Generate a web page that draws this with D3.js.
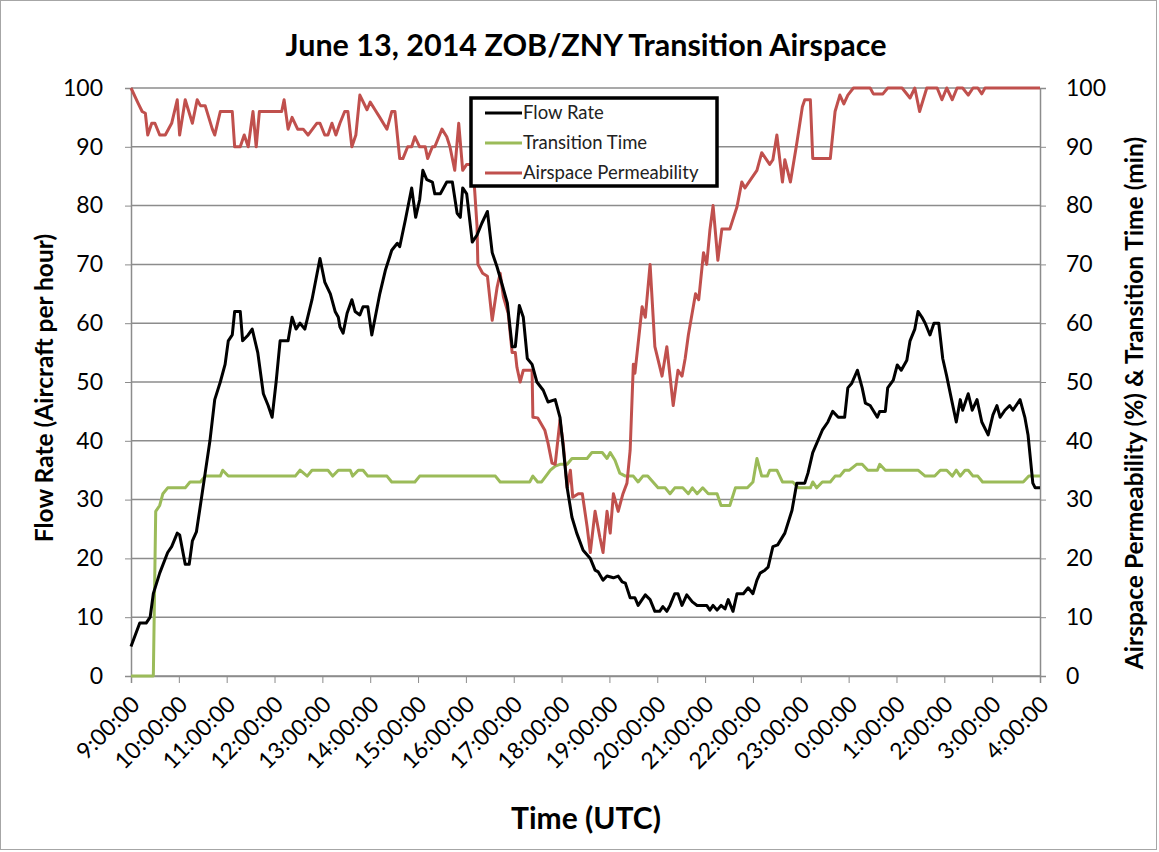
<!DOCTYPE html>
<html>
<head>
<meta charset="utf-8">
<script src="https://d3js.org/d3.v7.min.js"></script>
<style>
  body { margin: 0; background: #fff; }
  text { font-family: Lato, "Open Sans", sans-serif; }
</style>
</head>
<body>
<div id="chart"></div>
<script>
// time is minutes after 9:00 UTC
const hourLabels = ["9:00:00","10:00:00","11:00:00","12:00:00","13:00:00","14:00:00","15:00:00",
  "16:00:00","17:00:00","18:00:00","19:00:00","20:00:00","21:00:00","22:00:00","23:00:00",
  "0:00:00","1:00:00","2:00:00","3:00:00","4:00:00"];
const yTicks = [0,10,20,30,40,50,60,70,80,90,100];

const flowRate = [[0,5],[11,9],[19,9],[24,10],[28,14],[36,17.5],[46,21],[51,22],[58,24.3],[61,24],
  [68,19],[73,19],[77,23],[82,24.5],[87,29],[93,34.5],[99,40],[105,47],[112,50],[118,53],[122,57],
  [127,58],[130,62],[137,62],[140,57],[147,58],[152,59],[159,55],[166,48],[172,46],[177,44],[182,50],
  [187,57],[197,57],[202,61],[207,59],[212,60],[218,59],[227,64],[237,71],[243,67],[250,65],[256,62],
  [260,61],[262,59.4],[266,58.3],[271,61.7],[277,64],[281,62],[287,61.4],[291,62.8],[297,62.8],[302,58],
  [312,65],[319,69],[327,72.4],[334,73.6],[337,73],[344,77.5],[352,83],[357,78],[362,81],[366,86],
  [371,84.4],[378,84],[381,82],[388,82],[396,84],[403,84],[409,78.7],[413,78],[416,83],[421,82],
  [428,73.8],[434,75],[440,77],[447,79],[453,72],[459,69.6],[465,66.8],[472,63.4],[478,56],[482,56],
  [487,63],[492,61],[497,54],[503,53],[509,50],[517,48.6],[523,46.6],[532,47],[538,44],[542,39],
  [547,32],[553,27],[559,24.3],[567,21.4],[576,20],[582,18],[586,17.7],[592,16.3],[597,17],[605,16.7],
  [611,17],[616,16],[620,15.8],[626,13.3],[632,13.3],[636,12],[645,13.8],[651,13],[657,11],[663,11],
  [667,11.8],[672,11],[676,12],[682,14],[686,14],[691,12],[697,13.8],[704,12.6],[710,12],[722,12],
  [726,11.2],[730,12],[735,11.2],[740,12],[745,11.4],[749,13],[755,11],[760,14],[768,14],[774,15],
  [780,14],[785,16.3],[789,17.5],[795,18],[799,18.5],[805,22],[811,22.3],[820,24.3],[829,28.2],
  [835,32.8],[845,32.8],[849,34.5],[855,38],[867,41.8],[874,43.2],[880,45],[887,44],[895,44],[899,49],
  [904,49.8],[911,52],[917,49],[921,46.4],[927,46],[936,44],[939,45],[946,45],[949,49],[956,50.3],
  [961,52.9],[966,52],[973,53.7],[977,57],[983,59],[987,62],[992,61],[996,60],[1002,58],[1007,60],
  [1013,60],[1018,54],[1023,51],[1030,46.4],[1035,43.2],[1040,47],[1043,45.2],[1050,48],[1055,45.2],
  [1061,47],[1067,43.2],[1075,41],[1081,44.4],[1086,46],[1090,44],[1096,45.2],[1102,46],[1106,45.2],
  [1115,47],[1121,44],[1125,41],[1131,32.8],[1134,32],[1140,32]];

const transitionTime = [[0,0],[28,0],[31,28],[36,29],[40,31],[46,32],[68,32],[74,33],[87,33],[93,34],
  [112,34],[115,35],[122,34],[206,34],[212,35],[221,34],[227,35],[247,35],[253,34],[260,35],[275,35],
  [278,34],[285,35],[291,35],[297,34],[321,34],[327,33],[356,33],[362,34],[457,34],[463,33],[500,33],
  [504,34],[510,33],[515,33],[526,35],[532,35.7],[538,36],[547,36],[553,37],[572,37],[578,38],[591,38],
  [597,37],[601,38],[607,36.7],[613,34.5],[620,34],[630,34],[636,33],[642,34],[648,34],[661,32],
  [670,32],[676,31],[682,32],[692,32],[699,31],[704,32],[710,31],[717,32],[724,31],[735,31],[740,29],
  [751,29],[758,32],[773,32],[780,33],[785,37],[791,34],[798,34],[801,35],[810,35],[817,33],[830,33],
  [837,32],[852,32],[855,33],[860,32],[867,33],[877,33],[883,34],[889,34],[895,35],[901,35],[910,36],
  [917,36],[924,35],[936,35],[939,36],[946,35],[987,35],[996,34],[1008,34],[1015,35],[1023,35],
  [1030,34],[1035,35],[1040,34],[1046,35],[1050,35],[1056,34],[1062,34],[1068,33],[1119,33],
  [1126,34],[1140,34]];

const permeability = [[0,100],[9,97.4],[14,96],[18,95.7],[21,92],[26,94],[30,94],[36,92],[43,92],
  [51,94],[58,98],[61,92],[68,98],[77,94],[83,98],[87,97],[93,97],[102,93],[105,92],[112,96],[127,96],
  [130,90],[137,90],[142,92],[147,90],[153,96],[157,90],[161,96],[189,96],[192,98],[197,93],[202,95],
  [209,93],[216,93],[222,92],[233,94],[237,94],[243,92],[247,92],[252,94],[257,92],[262,94],[268,96],
  [272,96],[277,90],[282,92],[287,98.8],[296,96.3],[300,97.6],[306,96.3],[312,95],[321,93],[327,96],
  [331,96],[337,88],[341,88],[347,90],[352,90],[356,91.7],[362,90],[369,90],[372,88],[378,90],[381,90],
  [390,93],[396,91.7],[400,90],[406,86],[411,94],[416,86],[421,87],[428,87],[431,82.6],[434,76.4],
  [435,70],[441,68.5],[447,68],[453,60.5],[459,66],[463,68.5],[467,64.5],[473,61.7],[478,55],[482,55],
  [484,52.5],[488,50],[492,52],[503,52],[504,44],[510,43.9],[519,41.8],[523,39.6],[528,36.2],[532,36],
  [538,43.5],[542,39.6],[547,32],[551,35],[554,30.4],[561,31],[566,31],[572,25.4],[576,21],[582,28],
  [588,23.6],[592,21],[597,28],[601,24.3],[605,31],[611,28],[617,31],[622,32.8],[626,38.4],[630,53],
  [632,51.5],[641,62.8],[645,61],[651,70],[657,56],[666,51],[672,56],[680,46],[686,52],[691,51],
  [695,54],[699,58],[708,65],[712,64],[718,72],[722,70],[726,75.8],[730,80],[736,70.7],[741,76],
  [751,76],[760,79.8],[766,84],[770,83],[785,86],[791,89],[801,87],[805,87.8],[810,92],[817,84],
  [820,87.8],[827,84],[835,90.6],[842,96.8],[845,98],[852,98],[855,88],[877,88],[883,96],[889,98.8],
  [894,97.3],[899,98.8],[906,100],[927,100],[931,99],[943,99],[949,100],[967,100],[977,98.3],[983,100],
  [989,96],[998,100],[1011,100],[1017,98],[1023,100],[1030,98],[1036,100],[1043,100],[1050,98.8],
  [1056,100],[1062,100],[1067,99],[1071,100],[1140,100]];

const seriesNames = ["Flow Rate", "Transition Time", "Airspace Permeability"];
const seriesColors = ["#000000", "#9BBB59", "#C0504D"];

const width = 1159, height = 852;
const margin = { left: 131, right: 119, top: 88, bottom: 176 };
const innerWidth = width - margin.left - margin.right;
const innerHeight = height - margin.top - margin.bottom;

const svg = d3.select("#chart").append("svg")
  .attr("width", width)
  .attr("height", height);

// outer frame
svg.append("rect")
  .attr("x", 0.5).attr("y", 0.5)
  .attr("width", width - 3).attr("height", height - 3)
  .attr("fill", "#fff").attr("stroke", "#a6a6a6");

const chart = svg.append("g")
  .attr("transform", `translate(${margin.left}, ${margin.top})`);

const xScale = d3.scaleLinear().domain([0, 1140]).range([0, innerWidth]);
const yLeft = d3.scaleLinear().domain([0, 100]).range([innerHeight, 0]);
const yRight = d3.scaleLinear().domain([0, 100]).range([innerHeight, 0]);

// gridlines
chart.append("g")
  .selectAll("line")
  .data(yTicks)
  .join("line")
  .attr("x1", 0).attr("x2", innerWidth)
  .attr("y1", d => yLeft(d)).attr("y2", d => yLeft(d))
  .attr("stroke", "#8c8c8c").attr("stroke-width", 1.5);

// left axis
const leftAxis = chart.append("g")
  .call(d3.axisLeft(yLeft).tickValues(yTicks).tickSize(6).tickPadding(22));
leftAxis.select(".domain").attr("stroke", "#8c8c8c").attr("stroke-width", 1.5);
leftAxis.selectAll(".tick line").attr("stroke", "#8c8c8c");
leftAxis.selectAll("text").attr("font-size", 23).attr("fill", "#000")
  .style("font-family", "Lato, sans-serif");

// right axis
const rightAxis = chart.append("g")
  .attr("transform", `translate(${innerWidth}, 0)`)
  .call(d3.axisRight(yRight).tickValues(yTicks).tickSize(6).tickPadding(20));
rightAxis.select(".domain").attr("stroke", "#8c8c8c").attr("stroke-width", 1.5);
rightAxis.selectAll(".tick line").attr("stroke", "#8c8c8c");
rightAxis.selectAll("text").attr("font-size", 23).attr("fill", "#000")
  .style("font-family", "Lato, sans-serif");

// bottom axis
const xAxis = chart.append("g")
  .attr("transform", `translate(0, ${innerHeight})`)
  .call(d3.axisBottom(xScale)
    .tickValues(hourLabels.map((d, i) => i * 60))
    .tickFormat((d, i) => hourLabels[i])
    .tickSize(7));
xAxis.select(".domain").attr("stroke", "#8c8c8c").attr("stroke-width", 1.5);
xAxis.selectAll(".tick line").attr("stroke", "#8c8c8c");
xAxis.selectAll("text")
  .attr("font-size", 23).attr("fill", "#000")
  .style("font-family", "Lato, sans-serif")
  .attr("text-anchor", "end")
  .attr("dy", "0.35em")
  .attr("transform", "translate(4, 24) rotate(-45)")
  .attr("x", 0).attr("y", 0);

// lines
const lineLeft = d3.line().x(d => xScale(d[0])).y(d => yLeft(d[1]));
const lineRight = d3.line().x(d => xScale(d[0])).y(d => yRight(d[1]));

chart.append("path").datum(transitionTime)
  .attr("fill", "none").attr("stroke", seriesColors[1])
  .attr("stroke-width", 3).attr("stroke-linejoin", "round")
  .attr("d", lineRight);

chart.append("path").datum(permeability)
  .attr("fill", "none").attr("stroke", seriesColors[2])
  .attr("stroke-width", 3).attr("stroke-linejoin", "round")
  .attr("d", lineRight);

chart.append("path").datum(flowRate)
  .attr("fill", "none").attr("stroke", seriesColors[0])
  .attr("stroke-width", 3).attr("stroke-linejoin", "round")
  .attr("d", lineLeft);

// legend
const legend = svg.append("g").attr("transform", "translate(471, 98)");
legend.append("rect")
  .attr("width", 246).attr("height", 88)
  .attr("fill", "#fff").attr("stroke", "#000").attr("stroke-width", 3.5);
seriesNames.forEach((name, i) => {
  const y = 15 + i * 30;
  legend.append("line")
    .attr("x1", 14).attr("x2", 51).attr("y1", y).attr("y2", y)
    .attr("stroke", seriesColors[i]).attr("stroke-width", 3);
  legend.append("text")
    .attr("x", 52).attr("y", y).attr("dy", "0.35em")
    .attr("font-size", 18.5).attr("fill", "#222")
    .text(name);
});

// title
svg.append("text")
  .attr("x", 586).attr("y", 56)
  .attr("text-anchor", "middle")
  .attr("font-size", 30.5).attr("font-weight", "bold")
  .text("June 13, 2014 ZOB/ZNY Transition  Airspace");

// axis titles
svg.append("text")
  .attr("transform", "translate(53, 388) rotate(-90)")
  .attr("text-anchor", "middle")
  .attr("font-size", 24.5).attr("font-weight", "bold")
  .text("Flow Rate (Aircraft per hour)");

svg.append("text")
  .attr("transform", "translate(1143, 403) rotate(-90)")
  .attr("text-anchor", "middle")
  .attr("font-size", 24.5).attr("font-weight", "bold")
  .text("Airspace Permeability (%) & Transition Time (min)");

svg.append("text")
  .attr("x", 586).attr("y", 829)
  .attr("text-anchor", "middle")
  .attr("font-size", 30).attr("font-weight", "bold")
  .text("Time (UTC)");
</script>
</body>
</html>
